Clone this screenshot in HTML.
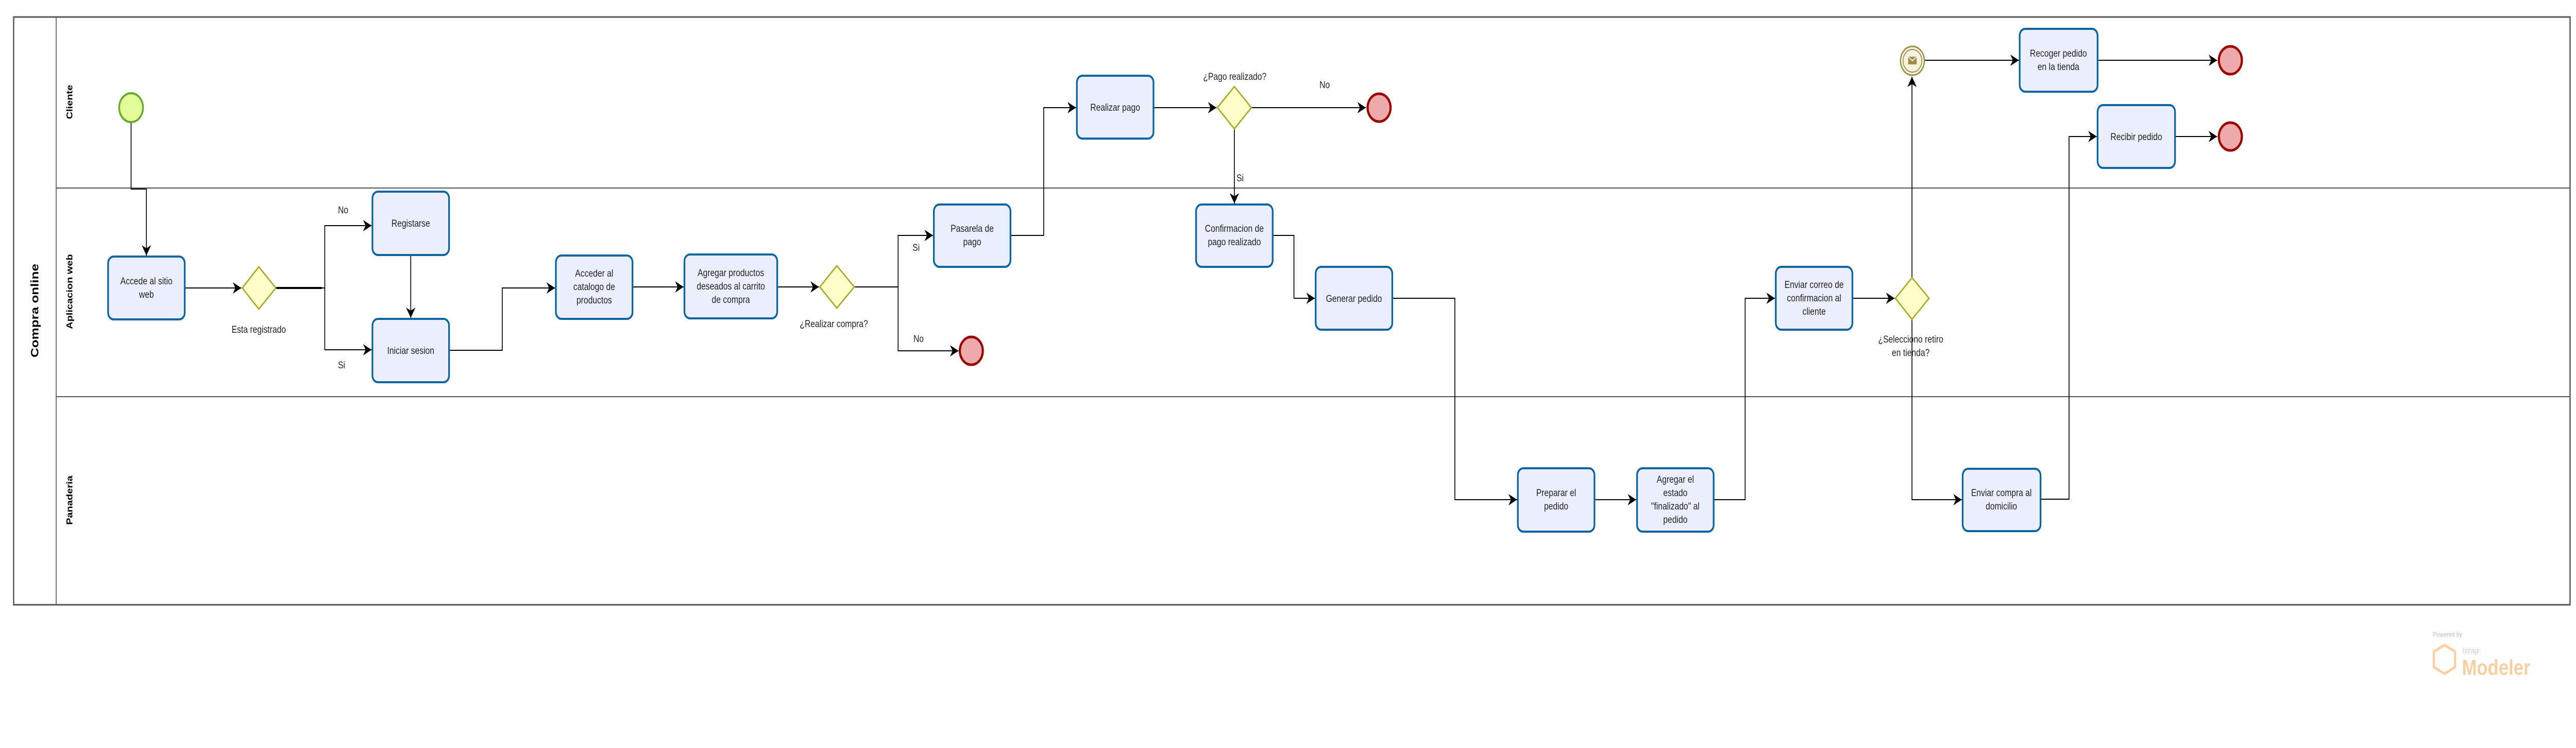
<!DOCTYPE html>
<html><head><meta charset="utf-8"><style>
html,body{margin:0;padding:0;background:#fff;width:100%;height:100%;overflow:hidden;}
svg{display:block;width:100vw;height:100vh;}
text{font-family:"Liberation Sans",sans-serif;fill:#222;}
.t{font-size:19px;text-anchor:middle;}
.l{font-size:19px;}
.box{fill:#ebeffd;stroke:#0c64a0;stroke-width:4;}
.gw{fill:#fefec8;stroke:#a8a828;stroke-width:3;}
.end{fill:#eeaaaa;stroke:#990000;stroke-width:5;}
.ln{fill:none;stroke:#000;stroke-width:2;}
</style></head><body>
<svg viewBox="0 0 6052 1452" preserveAspectRatio="none" xmlns="http://www.w3.org/2000/svg">
<defs>
<marker id="a" markerWidth="22" markerHeight="22" refX="20" refY="11" orient="auto" markerUnits="userSpaceOnUse">
<path d="M0,0 L20,11 L0,22 L6,11 Z" fill="#000"/>
</marker>
</defs>
<rect x="32" y="33" width="6006" height="1141" fill="#fff" stroke="#555" stroke-width="3"/>
<line x1="132" y1="33" x2="132" y2="1174" stroke="#555" stroke-width="2"/>
<line x1="132" y1="365" x2="6038" y2="365" stroke="#555" stroke-width="2"/>
<line x1="132" y1="770" x2="6038" y2="770" stroke="#555" stroke-width="2"/>
<text transform="translate(90,603) rotate(-90)" text-anchor="middle" style="font-size:26px;font-weight:bold;fill:#000">Compra online</text>
<text transform="translate(170,198) rotate(-90)" text-anchor="middle" style="font-size:20px;font-weight:bold;fill:#000">Cliente</text>
<text transform="translate(170,566) rotate(-90)" text-anchor="middle" style="font-size:20px;font-weight:bold;fill:#000">Aplicacion web</text>
<text transform="translate(170,971) rotate(-90)" text-anchor="middle" style="font-size:20px;font-weight:bold;fill:#000">Panaderia</text>

<path class="ln" d="M308,238 V367 H344 V496" marker-end="url(#a)"/>
<path class="ln" d="M434,559 H567" marker-end="url(#a)"/>
<path d="M648,559 H756" stroke="#000" stroke-width="4" fill="none"/>
<path class="ln" d="M756,559 H763 V438 H873" marker-end="url(#a)"/>
<path class="ln" d="M763,559 V679 H873" marker-end="url(#a)"/>
<path class="ln" d="M965,495 V617" marker-end="url(#a)"/>
<path class="ln" d="M1055,680 H1180 V559 H1304" marker-end="url(#a)"/>
<path class="ln" d="M1486,557 H1606" marker-end="url(#a)"/>
<path class="ln" d="M1826,557 H1924" marker-end="url(#a)"/>
<path class="ln" d="M2007,557 H2110 V457 H2192" marker-end="url(#a)"/>
<path class="ln" d="M2110,557 V681 H2252" marker-end="url(#a)"/>
<path class="ln" d="M2374,457 H2452 V209 H2528" marker-end="url(#a)"/>
<path class="ln" d="M2710,209 H2858" marker-end="url(#a)"/>
<path class="ln" d="M2940,209 H3209" marker-end="url(#a)"/>
<path class="ln" d="M2900,250 V395" marker-end="url(#a)"/>
<path class="ln" d="M2990,457 H3040 V579 H3089" marker-end="url(#a)"/>
<path class="ln" d="M3270,579 H3418 V970 H3564" marker-end="url(#a)"/>
<path class="ln" d="M3746,970 H3844" marker-end="url(#a)"/>
<path class="ln" d="M4026,970 H4100 V579 H4170" marker-end="url(#a)"/>
<path class="ln" d="M4352,579 H4451" marker-end="url(#a)"/>
<path class="ln" d="M4492,539 V149" marker-end="url(#a)"/>
<path class="ln" d="M4492,620 V970 H4609" marker-end="url(#a)"/>
<path class="ln" d="M4794,969 H4861 V265 H4926" marker-end="url(#a)"/>
<path class="ln" d="M4522,117 H4743" marker-end="url(#a)"/>
<path class="ln" d="M4928,117 H5209" marker-end="url(#a)"/>
<path class="ln" d="M5110,265 H5209" marker-end="url(#a)"/>

<circle cx="308" cy="209" r="28" fill="#e0fd9a" stroke="#6aa82a" stroke-width="4"/>
<circle cx="2282" cy="681" r="27" class="end"/>
<circle cx="3240" cy="209" r="27" class="end"/>
<circle cx="5240" cy="117" r="27" class="end"/>
<circle cx="5240" cy="265" r="27" class="end"/>
<circle cx="4493" cy="118" r="28" fill="#f7f3e0" stroke="#998f4a" stroke-width="3"/>
<circle cx="4493" cy="118" r="22" fill="none" stroke="#998f4a" stroke-width="2"/>
<rect x="4483" y="110" width="20" height="15" fill="#998f4a"/>
<path d="M4483,110 L4493,118 L4503,110" fill="none" stroke="#f7f3e0" stroke-width="2"/>

<polygon class="gw" points="608,518 648,559 608,600 569,559"/>
<polygon class="gw" points="1966,516 2007,557 1966,598 1926,557"/>
<polygon class="gw" points="2900,168 2940,209 2900,250 2860,209"/>
<polygon class="gw" points="4492,539 4532,579 4492,620 4453,579"/>

<rect class="box" x="254" y="498" width="180" height="122" rx="13"/>
<text class="t" x="344" y="552">Accede al sitio</text><text class="t" x="344" y="578">web</text>
<rect class="box" x="875" y="372" width="180" height="123" rx="13"/>
<text class="t" x="965" y="440">Registarse</text>
<rect class="box" x="875" y="619" width="180" height="123" rx="13"/>
<text class="t" x="965" y="687">Iniciar sesion</text>
<rect class="box" x="1306" y="496" width="180" height="123" rx="13"/>
<text class="t" x="1396" y="537">Acceder al</text><text class="t" x="1396" y="563">catalogo de</text><text class="t" x="1396" y="589">productos</text>
<rect class="box" x="1608" y="494" width="218" height="124" rx="13"/>
<text class="t" x="1717" y="536">Agregar productos</text><text class="t" x="1717" y="562">deseados al carrito</text><text class="t" x="1717" y="588">de compra</text>
<rect class="box" x="2194" y="397" width="180" height="121" rx="13"/>
<text class="t" x="2284" y="450">Pasarela de</text><text class="t" x="2284" y="476">pago</text>
<rect class="box" x="2530" y="147" width="180" height="122" rx="13"/>
<text class="t" x="2620" y="215">Realizar pago</text>
<rect class="box" x="2810" y="397" width="180" height="121" rx="13"/>
<text class="t" x="2900" y="450">Confirmacion de</text><text class="t" x="2900" y="476">pago realizado</text>
<rect class="box" x="3091" y="518" width="180" height="122" rx="13"/>
<text class="t" x="3181" y="586">Generar pedido</text>
<rect class="box" x="3566" y="909" width="180" height="123" rx="13"/>
<text class="t" x="3656" y="963">Preparar el</text><text class="t" x="3656" y="989">pedido</text>
<rect class="box" x="3846" y="909" width="180" height="123" rx="13"/>
<text class="t" x="3936" y="937">Agregar el</text><text class="t" x="3936" y="963">estado</text><text class="t" x="3936" y="989">"finalizado" al</text><text class="t" x="3936" y="1015">pedido</text>
<rect class="box" x="4172" y="518" width="180" height="122" rx="13"/>
<text class="t" x="4262" y="559">Enviar correo de</text><text class="t" x="4262" y="585">confirmacion al</text><text class="t" x="4262" y="611">cliente</text>
<rect class="box" x="4611" y="910" width="183" height="121" rx="13"/>
<text class="t" x="4702" y="963">Enviar compra al</text><text class="t" x="4702" y="989">domicilio</text>
<rect class="box" x="4745" y="56" width="183" height="122" rx="13"/>
<text class="t" x="4836" y="110">Recoger pedido</text><text class="t" x="4836" y="136">en la tienda</text>
<rect class="box" x="4928" y="204" width="182" height="122" rx="13"/>
<text class="t" x="5019" y="272">Recibir pedido</text>

<text class="t" x="608" y="646">Esta registrado</text>
<text class="l" x="794" y="414">No</text>
<text class="l" x="794" y="715">Si</text>
<text class="t" x="1959" y="635">¿Realizar compra?</text>
<text class="l" x="2144" y="487">Si</text>
<text class="l" x="2146" y="664">No</text>
<text class="t" x="2901" y="155">¿Pago realizado?</text>
<text class="l" x="3100" y="171">No</text>
<text class="l" x="2905" y="352">Si</text>
<text class="t" x="4489" y="665">¿Selecciono retiro</text>
<text class="t" x="4489" y="691">en tienda?</text>

<text x="5716" y="1236" style="font-size:13px;fill:#bbb">Powered by</text>
<polygon points="5743,1252 5768,1265 5768,1295 5743,1308 5718,1295 5718,1265" fill="none" stroke="#f8cfa0" stroke-width="5"/>
<text x="5786" y="1268" style="font-size:15px;fill:#ccc">bizagi</text>
<text x="5784" y="1310" style="font-size:42px;fill:#f8cfa0;font-weight:bold">Modeler</text>
</svg>
</body></html>
